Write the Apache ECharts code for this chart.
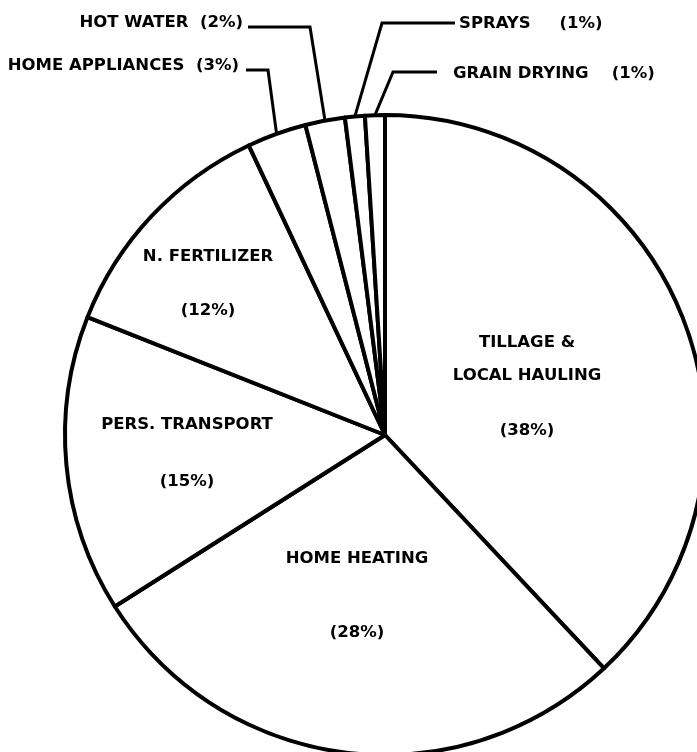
<!DOCTYPE html>
<html><head><meta charset="utf-8">
<script src="https://cdn.jsdelivr.net/npm/echarts@6/dist/echarts.min.js"></script>
<style>html,body{margin:0;padding:0;background:#fff;overflow:hidden}#c{width:697px;height:752px}</style>
</head><body><div id="c"></div>
<script>
// ---- data ----
const categories = ['TILLAGE &\nLOCAL HAULING', 'HOME HEATING', 'PERS. TRANSPORT', 'N. FERTILIZER',
                    'HOME APPLIANCES', 'HOT WATER', 'SPRAYS', 'GRAIN DRYING'];
const values = [38, 28, 15, 12, 3, 2, 1, 1];

// ---- label placement (layout only) ----
// x: centre of text, top: top of first line box, gap: distance between name line and percent line
const insideLayout = {
  0: {x: 527, top: 326, gap: 55},
  1: {x: 357, top: 542, gap: 74},
  2: {x: 187, top: 408, gap: 57},
  3: {x: 208, top: 240, gap: 54}
};
const outsideLayout = {
  4: {x: 239, y: 66, align: 'right', elbow: [268, 70], end: [246, 70], sp: 2},
  5: {x: 243, y: 23, align: 'right', elbow: [310, 27], end: [248, 27], sp: 2},
  6: {x: 459, y: 24, align: 'left', elbow: [382, 23], end: [455, 23], sp: 5},
  7: {x: 453, y: 74, align: 'left', elbow: [393, 72], end: [437, 72], sp: 4}
};

const FONT = {fontFamily: 'DejaVu Sans', fontWeight: 'bold', fontSize: 16.5, color: '#000'};

const data = categories.map((name, i) => {
  const item = {name: name, value: values[i]};
  if (insideLayout[i]) {
    item.label = {
      position: 'inside',
      formatter: p => p.name.split('\n').map(s => '{a|' + s + '}').join('\n') + '\n{b|(' + p.value + '%)}',
      rich: {
        a: Object.assign({}, FONT, {lineHeight: 33}),
        b: Object.assign({}, FONT, {lineHeight: 2 * insideLayout[i].gap - 33})
      }
    };
    item.labelLine = {show: false};
  } else {
    item.label = {
      position: 'outside',
      formatter: p => p.name + ' '.repeat(outsideLayout[i].sp) + '(' + p.value + '%)'
    };
  }
  return item;
});

const chart = echarts.init(document.getElementById('c'), null, {renderer: 'canvas'});
chart.setOption({
  backgroundColor: '#fff',
  animation: false,
  series: [{
    type: 'pie',
    center: [385, 435],
    radius: 320,
    startAngle: 90,
    clockwise: true,
    avoidLabelOverlap: false,
    silent: true,
    emphasis: {disabled: true},
    itemStyle: {color: '#fff', borderColor: '#000', borderWidth: 4},
    label: Object.assign({show: true}, FONT),
    labelLine: {show: true, length: 10, length2: 10, lineStyle: {color: '#000', width: 3}},
    labelLayout: function (p) {
      const i = p.dataIndex;
      if (insideLayout[i]) {
        const L = insideLayout[i];
        return {x: L.x, y: L.top, align: 'center', verticalAlign: 'top'};
      }
      const L = outsideLayout[i];
      const start = p.labelLinePoints ? p.labelLinePoints[0] : L.elbow;
      return {
        x: L.x, y: L.y, align: L.align, verticalAlign: 'middle',
        labelLinePoints: [start, L.elbow, L.end]
      };
    },
    data: data
  }]
});
</script>
</body></html>
